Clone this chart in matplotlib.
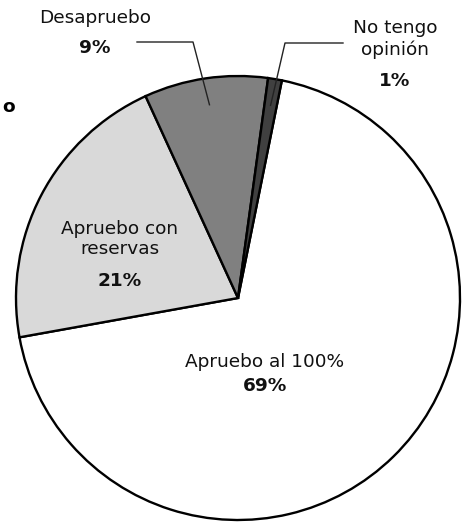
import matplotlib
matplotlib.use("Agg")
import matplotlib.pyplot as plt
import numpy as np

# opinion shares, clockwise from the top
labels = ["Apruebo al 100%", "Apruebo con\nreservas", "Desapruebo", "No tengo\nopinión"]
values = [69, 21, 9, 1]
colors = ["#ffffff", "#d9d9d9", "#808080", "#404040"]

W, H = 466, 523
CX, CY, R = 238, H - 298, 222

plt.rcParams['font.family'] = ['DejaVu Sans']

fig = plt.figure(figsize=(W / 100, H / 100), dpi=100)
ax = fig.add_axes([0, 0, 1, 1])

wedges, _ = ax.pie(values, colors=colors, startangle=78.6, counterclock=False,
                   center=(CX, CY), radius=R,
                   wedgeprops=dict(edgecolor='black', linewidth=1.7))
ax.set_xlim(0, W)
ax.set_ylim(0, H)
ax.set_aspect('equal')
ax.axis('off')


def img(x, y):
    return x, H - y


def inner_point(w, frac=0.88):
    a = np.deg2rad((w.theta1 + w.theta2) / 2)
    return CX + frac * R * np.cos(a), CY + frac * R * np.sin(a)


fs = 13.3
txt = dict(ha='center', va='center', fontsize=fs, color='#111111')
bold = dict(ha='center', va='center', fontsize=fs, fontweight='bold', color='#111111')

# big slices, labels inside
ax.text(*img(265, 362), labels[0], **txt)
ax.text(*img(265, 386), f"{values[0]}%", **bold)
ax.text(*img(120, 239), labels[1], linespacing=1.2, **txt)
ax.text(*img(120, 281), f"{values[1]}%", **bold)

# small slices, labels outside with leader lines
ax.text(*img(95, 18), labels[2], **txt)
ax.text(*img(95, 48), f"{values[2]}%", **bold)
x0, y0 = inner_point(wedges[2])
ax.plot([137, 193, x0], [H - 42, H - 42, y0], color='#222222', lw=1)

ax.text(*img(395, 39), labels[3], linespacing=1.2, **txt)
ax.text(*img(395, 81), f"{values[3]}%", **bold)
x1, y1 = inner_point(wedges[3])
ax.plot([343, 285, x1], [H - 43, H - 43, y1], color='#222222', lw=1)

# cut-off text at the left edge
ax.text(*img(9, 107), "o", ha='center', va='center', fontsize=fs, fontweight='bold')

fig.savefig("out.png", dpi=100)
